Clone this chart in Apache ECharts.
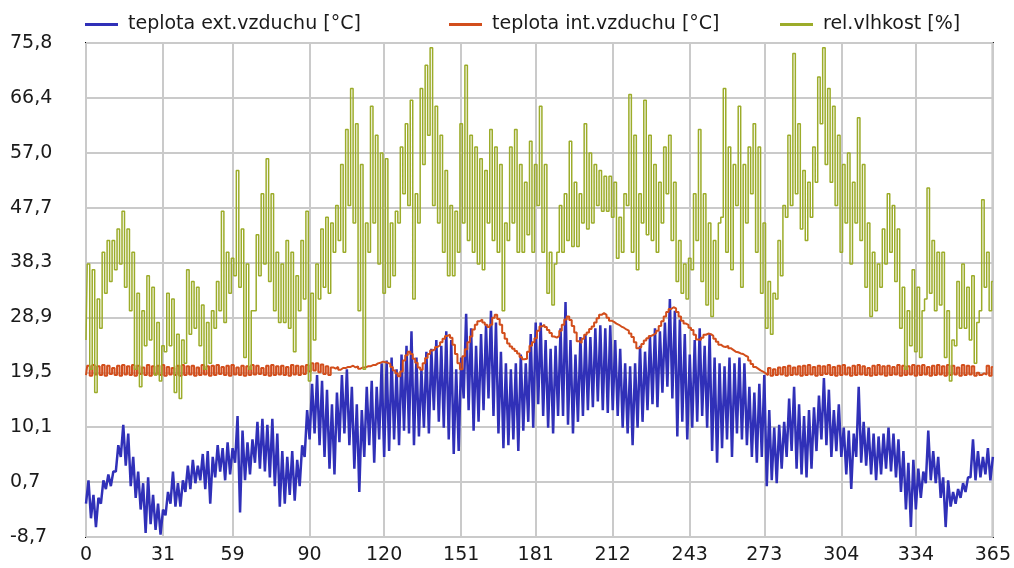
<!DOCTYPE html>
<html>
<head>
<meta charset="utf-8">
<script src="https://cdn.jsdelivr.net/npm/echarts@6/dist/echarts.min.js"></script>
<style>html,body{margin:0;padding:0;background:#fff;}#c{width:1014px;height:568px;}</style>
</head>
<body>
<div id="c"></div>
<script>
// Names
const seriesNames = ['teplota ext.vzduchu [°C]', 'teplota int.vzduchu [°C]', 'rel.vlhkost [%]'];
// X tick values (days) and Y tick labels
const xTicks = [0, 31, 59, 90, 120, 151, 181, 212, 243, 273, 304, 334, 365];
const yLabels = ['-8,7', '0,7', '10,1', '19,5', '28,9', '38,3', '47,7', '57,0', '66,4', '75,8'];
const yMin = -8.7, yMax = 75.8;

// Values read every 2 days (day 0,2,...,364): low value on the even day, high value on the following day
const extLow = [
-3.0,-5.5,-7.0,-3.0,-0.5,0.0,2.5,5.0,3.5,0.0,
-2.0,-4.0,-8.0,-6.5,-7.5,-8.3,-5.0,-3.0,-3.5,-3.5,
-1.0,-0.5,0.5,1.0,-0.5,-3.0,1.5,2.5,1.0,2.0,
4.0,-4.5,1.0,2.0,4.0,3.0,2.5,1.5,0.0,-3.5,
-3.0,-1.5,-2.5,0.0,5.0,8.0,9.0,7.0,5.0,3.0,
2.0,7.5,9.0,7.0,3.0,-1.0,5.0,7.0,4.0,8.0,
5.0,6.0,8.0,7.0,9.5,9.0,7.0,8.5,10.0,9.0,
13.0,11.0,10.0,8.0,5.5,6.0,15.0,13.0,9.5,11.0,
13.0,15.0,12.0,9.0,6.5,7.0,8.0,6.0,9.5,11.0,
10.0,14.0,12.0,10.0,9.0,12.0,12.0,10.5,9.0,11.0,
12.0,13.0,13.5,14.5,13.0,12.5,13.0,12.0,10.0,9.0,
7.0,10.0,11.0,13.0,14.0,13.5,16.0,17.0,15.0,8.5,
11.0,8.0,10.0,11.0,12.0,10.0,6.0,4.0,6.5,8.0,
5.0,9.0,8.0,7.0,5.0,4.0,5.0,0.0,1.0,0.5,
3.0,5.0,6.0,3.0,2.0,1.5,3.0,6.0,8.0,7.0,
5.0,6.0,5.0,2.0,-0.5,5.0,4.0,3.5,2.0,1.0,
2.0,3.0,2.5,1.5,-1.0,-4.0,-7.0,-4.0,-2.0,0.5,
1.0,0.5,-2.0,-7.0,-3.5,-3.0,-2.0,-1.0,1.5,1.0,
1.5,2.0,1.0
];
const extHigh = [
1.0,-1.5,-2.0,1.0,2.0,2.5,7.0,10.5,9.0,5.0,
2.5,0.5,1.5,-1.5,-3.0,-4.0,-1.0,2.5,0.5,1.0,
3.5,4.5,3.5,5.5,6.0,5.0,7.0,6.5,7.5,6.5,
12.0,9.5,7.5,8.0,11.0,11.5,10.5,11.5,9.0,6.0,
5.0,6.0,4.5,7.0,13.0,17.5,19.0,18.0,16.5,14.0,
16.0,19.0,20.0,17.0,14.0,13.0,17.0,18.0,17.0,21.0,
21.5,22.0,20.0,22.5,24.0,26.5,22.0,20.0,23.0,23.5,
25.0,24.0,26.5,25.0,20.0,22.0,29.5,27.0,24.0,26.0,
27.5,30.0,28.0,23.0,21.0,20.0,21.0,22.5,21.0,26.0,
28.0,28.0,25.0,23.5,24.0,27.0,31.5,25.0,22.5,25.5,
26.0,25.5,27.0,27.5,27.0,27.5,25.0,23.5,21.0,20.5,
21.0,24.0,23.0,25.5,27.0,26.5,28.0,32.0,30.0,28.5,
26.0,22.5,25.0,27.0,24.0,26.0,22.0,21.0,20.5,22.0,
21.0,22.0,21.0,17.0,16.0,17.5,19.0,13.0,10.0,10.5,
11.0,15.0,17.0,14.0,12.0,13.0,13.5,15.5,18.5,16.5,
13.0,14.0,10.0,9.5,9.0,17.0,11.0,10.0,9.0,8.5,
9.0,10.0,9.0,8.0,6.0,4.0,4.5,3.0,2.5,9.5,
6.0,5.0,1.5,1.0,-1.0,-0.5,0.5,1.5,8.0,6.0,
5.0,6.5,5.0
];
const intEven = [
19.0,18.9,19.1,19.0,18.9,19.2,19.0,18.9,19.1,19.0,
18.9,19.2,19.0,18.9,19.1,19.0,18.9,19.1,19.0,18.9,
19.0,19.1,18.9,19.0,19.1,18.9,19.0,19.2,19.0,18.9,
19.1,19.0,18.9,19.0,19.1,19.2,19.0,18.9,19.0,19.1,
19.0,18.9,19.1,19.0,19.2,19.6,19.8,19.5,19.2,19.0,
20.1,19.9,20.2,20.4,20.3,20.1,20.3,20.5,20.7,21.1,
21.2,20.9,19.8,18.8,21.5,23.0,21.8,20.3,21.0,22.6,
23.4,24.1,25.2,25.9,24.2,21.0,22.2,24.6,26.8,28.2,
28.0,27.2,28.8,28.6,26.2,24.4,23.5,22.7,21.7,23.0,
24.6,26.6,27.6,26.7,25.6,25.7,27.6,29.0,27.4,24.8,
25.2,26.3,27.3,28.7,29.6,28.8,28.1,27.6,27.1,26.6,
25.5,23.6,24.3,25.3,25.9,26.6,28.2,29.8,30.6,29.8,
28.3,27.6,26.7,25.1,25.4,26.1,25.7,24.7,23.9,24.0,
23.3,22.9,22.6,22.1,20.9,20.1,19.6,19.0,18.9,19.0,
19.1,18.9,19.0,19.1,18.9,19.0,19.1,18.9,19.0,19.2,
19.0,18.9,19.0,19.1,18.9,19.0,19.1,19.0,18.9,19.0,
19.1,18.9,19.0,19.1,18.9,19.0,19.1,18.9,19.0,19.1,
18.9,19.0,19.1,18.9,19.0,19.1,18.9,19.0,19.1,18.9,
19.0,19.1,18.9
];
const intOdd = [
20.6,20.7,20.5,20.7,20.6,20.2,20.6,20.7,20.5,20.7,
20.6,20.3,20.7,20.5,20.6,20.7,20.4,20.2,20.6,20.7,
20.5,20.6,20.3,20.7,20.5,20.6,20.7,20.4,20.6,20.7,
20.3,20.6,20.5,20.7,20.6,20.2,20.6,20.7,20.5,20.6,
20.4,20.7,20.6,20.5,20.7,21.0,21.0,20.8,20.5,20.3,
20.4,20.2,20.4,20.6,20.5,20.3,20.5,20.7,21.0,21.3,
21.1,20.4,19.3,19.6,22.4,22.6,21.1,19.9,21.9,23.2,
23.8,24.6,25.7,25.4,22.6,20.0,23.4,25.6,27.6,28.5,
27.6,27.6,29.3,27.6,25.2,23.9,23.1,22.1,21.8,24.0,
25.3,27.3,27.2,26.2,25.4,26.6,28.5,28.4,26.3,24.5,
25.9,26.9,28.0,29.3,29.3,28.3,27.8,27.3,26.8,26.1,
24.6,23.8,24.9,25.7,26.2,27.4,29.0,30.3,30.4,29.0,
27.8,27.1,25.9,25.0,25.9,26.0,25.2,24.2,23.8,23.6,
23.0,22.7,22.3,21.5,20.4,19.8,19.3,20.2,20.0,20.3,
20.4,20.6,20.3,20.5,20.6,20.7,20.4,20.6,20.5,20.7,
20.4,20.6,20.7,20.3,20.6,20.7,20.5,20.2,20.6,20.7,
20.5,20.6,20.4,20.7,20.6,20.5,20.7,20.6,20.7,20.4,
20.6,20.7,20.5,20.7,20.6,20.3,20.7,20.6,20.5,19.4,
19.3,20.6,20.4
];
const humLow = [
25,20,16,27,33,35,37,38,34,30,
20,17,24,25,19,18,23,24,16,15,
21,26,27,24,20,21,27,30,28,33,
36,34,22,20,30,36,38,35,30,28,
28,27,23,30,32,18,25,32,34,33,
40,42,40,48,45,30,20,40,45,38,
33,34,36,45,50,48,32,45,55,60,
48,45,40,36,36,40,45,42,40,38,
37,45,42,40,30,42,45,40,40,43,
40,48,40,33,31,40,40,42,41,41,
45,44,45,48,47,47,46,39,40,48,
40,37,45,43,42,40,45,50,42,35,
33,32,37,42,35,31,29,32,46,40,
37,48,34,45,50,40,33,27,26,32,
36,46,48,50,44,42,46,52,62,55,
52,48,40,45,38,45,42,34,29,30,
34,38,40,35,27,20,24,23,22,32,
33,30,31,22,18,24,27,27,25,21,
30,34,30
];
const humHigh = [
38,37,32,40,42,42,44,47,44,40,
33,30,36,34,28,24,33,32,26,25,
37,35,34,31,28,30,35,47,40,39,
54,44,38,30,43,50,56,50,40,38,
42,40,36,42,47,33,38,44,46,45,
48,55,61,68,62,55,45,65,60,57,
56,45,47,58,62,66,50,68,72,75,
65,60,54,48,47,62,72,60,58,56,
54,61,58,55,45,58,61,55,52,59,
55,65,55,40,38,48,50,59,52,50,
62,57,55,54,53,53,52,46,50,67,
60,50,66,60,55,52,58,60,52,42,
38,39,50,61,50,45,42,45,68,58,
55,65,55,58,62,58,45,35,33,42,
48,60,74,62,54,52,58,70,75,68,
65,60,55,57,52,63,55,45,40,38,
44,50,48,44,34,30,37,34,30,51,
42,40,40,30,25,35,38,34,36,28,
49,40,35
];

function pairs(lowArr, highArr) {
  const out = [];
  for (let i = 0; i < lowArr.length; i++) {
    out.push([2 * i, lowArr[i]]);
    if (2 * i + 1 <= 365) out.push([2 * i + 1, highArr[i]]);
  }
  return out;
}

const yStep = (yMax - yMin) / (yLabels.length - 1);
const yTicks = yLabels.map((_, k) => yMin + k * yStep);
const font = 'DejaVu Sans';
const colors = ['#3030b8', '#d24e1c', '#9cac2a'];

const chart = echarts.init(document.getElementById('c'));
function legendAt(left, idx) {
  return {
    left: left, top: 10, icon: 'rect', itemWidth: 33, itemHeight: 3,
    data: [seriesNames[idx]], selectedMode: false,
    textStyle: { fontFamily: font, fontSize: 19, color: '#1a1a1a', padding: [0, 0, 0, 5] }
  };
}
chart.setOption({
  animation: false,
  color: colors,
  legend: [legendAt(80, 0), legendAt(444, 1), legendAt(775, 2)],
  grid: { left: 86, top: 43, right: 21, bottom: 31, show: true, borderColor: '#000', borderWidth: 2, backgroundColor: 'transparent' },
  xAxis: {
    type: 'value', min: 0, max: 365,
    axisLine: { show: false },
    axisTick: { show: false, customValues: xTicks },
    axisLabel: { customValues: xTicks, fontFamily: font, fontSize: 19, color: '#1a1a1a', margin: 9, showMinLabel: true, showMaxLabel: true },
    splitLine: { show: true, lineStyle: { color: '#cacaca', width: 2 } }
  },
  yAxis: {
    type: 'value', min: yMin, max: yMax,
    axisLine: { show: false },
    axisTick: { show: false, customValues: yTicks },
    axisLabel: {
      customValues: yTicks, fontFamily: font, fontSize: 19, color: '#1a1a1a', align: 'left', margin: 76,
      formatter: function (v) { return yLabels[Math.round((v - yMin) / yStep)]; }
    },
    splitLine: { show: true, lineStyle: { color: '#cacaca', width: 2 } }
  },
  series: [
    { name: seriesNames[0], type: 'line', symbol: 'none', data: pairs(extLow, extHigh), lineStyle: { width: 2.5, color: colors[0] }, clip: true },
    { name: seriesNames[1], type: 'line', step: 'middle', symbol: 'none', data: pairs(intEven, intOdd), lineStyle: { width: 2, color: colors[1] }, clip: true },
    { name: seriesNames[2], type: 'line', step: 'middle', symbol: 'none', data: pairs(humLow, humHigh), lineStyle: { width: 1.5, color: colors[2] }, clip: true }
  ]
});
</script>
</body>
</html>
